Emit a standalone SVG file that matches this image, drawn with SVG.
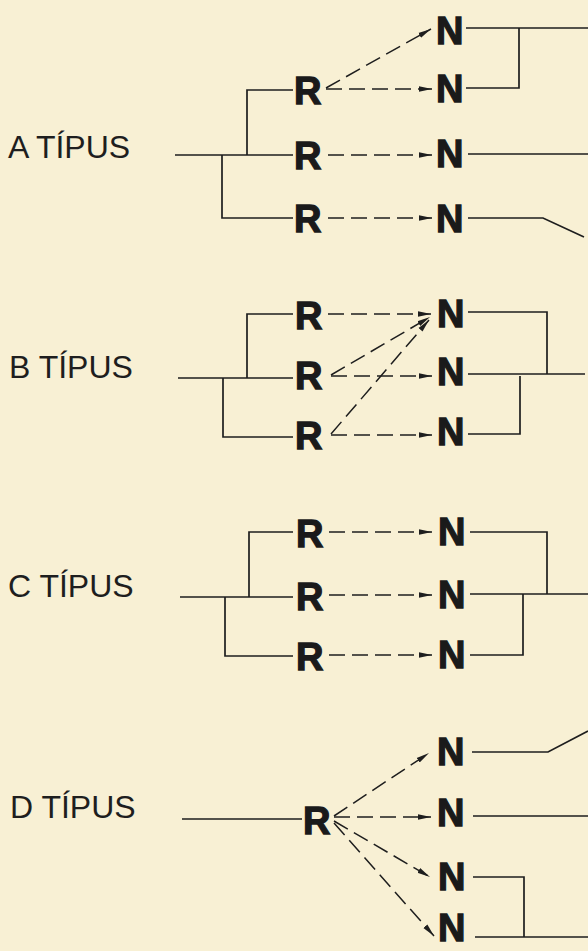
<svg xmlns="http://www.w3.org/2000/svg" width="588" height="951" viewBox="0 0 588 951">
<style>
.bg{fill:#f8f0d4}
.lbl{font-family:"Liberation Sans",Arial,sans-serif;font-size:32px;fill:#1e1e1e}
.nd{font-family:"Liberation Sans",Arial,sans-serif;font-size:38px;font-weight:bold;fill:#1a1a1a;stroke:#1a1a1a;stroke-width:1.3}
.w{fill:none;stroke:#1e1e1e;stroke-width:1.7}
.d{fill:none;stroke:#1e1e1e;stroke-width:1.5;stroke-dasharray:16 7;marker-end:url(#ah)}
</style>
<defs>
<marker id="ah" markerUnits="userSpaceOnUse" markerWidth="14" markerHeight="8" refX="13" refY="3.5" orient="auto">
<path d="M0,0.8 L13,3.5 L0,6.2 z" fill="#1e1e1e"/>
</marker>
</defs>
<rect class="bg" x="0" y="0" width="588" height="951"/>
<g id="labels">
<text class="lbl" x="8" y="158">A TÍPUS</text>
<text class="lbl" x="9" y="378">B TÍPUS</text>
<text class="lbl" x="8" y="597">C TÍPUS</text>
<text class="lbl" x="10" y="818">D TÍPUS</text>
</g>
<g id="connectors">
<path class="w" d="M175,155 H293 M247,155 V90 H293 M222,155 V218 H293"/>
<path class="w" d="M466,28 H588 M466,88 H519 V28 M468,154 H588 M468,218 H543 L584,237"/>
<path class="d" d="M326,88 L431,29"/>
<path class="d" d="M326,89 H432"/>
<path class="d" d="M328,155 H432"/>
<path class="d" d="M328,218 H432"/>
<path class="w" d="M178,378 H293 M247,378 V314 H293 M223,378 V437 H293"/>
<path class="w" d="M468,312 H547 V374 M468,374 H585 M468,434 H520 V376"/>
<path class="d" d="M328,314 H431"/>
<path class="d" d="M331,375 L430,317"/>
<path class="d" d="M331,376 H432"/>
<path class="d" d="M331,434 L429,320"/>
<path class="d" d="M331,435 H432"/>
<path class="w" d="M180,597 H293 M249,597 V532 H293 M225,597 V656 H293"/>
<path class="w" d="M470,532 H547 V594 M470,594 H588 M470,655 H523 V594"/>
<path class="d" d="M329,532 H432"/>
<path class="d" d="M329,595 H432"/>
<path class="d" d="M329,655 H432"/>
<path class="w" d="M182,819 H302"/>
<path class="w" d="M472,752 H548 L588,731 M473,816 H588 M473,877 H524 V937 M475,937 H588"/>
<path class="d" d="M334,816 L429,753"/>
<path class="d" d="M334,817 H431"/>
<path class="d" d="M334,821 L430,877"/>
<path class="d" d="M334,823 L434,936"/>
</g>
<g id="A-R1"><text class="nd" x="294" y="104">R</text></g>
<g id="A-R2"><text class="nd" x="294" y="169">R</text></g>
<g id="A-R3"><text class="nd" x="294" y="232">R</text></g>
<g id="A-N1"><text class="nd" x="436" y="44">N</text></g>
<g id="A-N2"><text class="nd" x="436" y="102">N</text></g>
<g id="A-N3"><text class="nd" x="436" y="167">N</text></g>
<g id="A-N4"><text class="nd" x="436" y="232">N</text></g>
<g id="B-R1"><text class="nd" x="295" y="329">R</text></g>
<g id="B-R2"><text class="nd" x="295" y="389">R</text></g>
<g id="B-R3"><text class="nd" x="295" y="449">R</text></g>
<g id="B-N1"><text class="nd" x="437" y="327">N</text></g>
<g id="B-N2"><text class="nd" x="437" y="385">N</text></g>
<g id="B-N3"><text class="nd" x="437" y="445">N</text></g>
<g id="C-R1"><text class="nd" x="296" y="547">R</text></g>
<g id="C-R2"><text class="nd" x="296" y="610">R</text></g>
<g id="C-R3"><text class="nd" x="296" y="670">R</text></g>
<g id="C-N1"><text class="nd" x="438" y="545">N</text></g>
<g id="C-N2"><text class="nd" x="438" y="608">N</text></g>
<g id="C-N3"><text class="nd" x="438" y="668">N</text></g>
<g id="D-R"><text class="nd" x="303" y="834">R</text></g>
<g id="D-N1"><text class="nd" x="437" y="765">N</text></g>
<g id="D-N2"><text class="nd" x="437" y="826">N</text></g>
<g id="D-N3"><text class="nd" x="438" y="890">N</text></g>
<g id="D-N4"><text class="nd" x="438" y="941">N</text></g>
</svg>
